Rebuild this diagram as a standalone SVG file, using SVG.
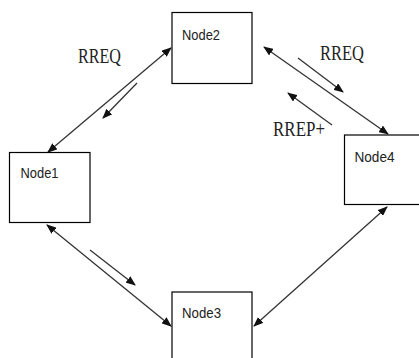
<svg xmlns="http://www.w3.org/2000/svg" width="419" height="358" viewBox="0 0 419 358">
<style>
.box{fill:#fff;stroke:#000;stroke-width:1.2}
.nt{font-family:"Liberation Sans",Arial,sans-serif;font-size:15px;fill:#222}
.lb{font-family:"Liberation Serif","Times New Roman",serif;font-size:21px;fill:#222}
.ln{stroke:#333;stroke-width:1.3;fill:none}
</style>
<defs>
<marker id="ah" markerUnits="userSpaceOnUse" markerWidth="10" markerHeight="8" refX="9" refY="4" orient="auto-start-reverse" viewBox="0 0 10 8">
<path d="M0,0 L10,4 L0,8 Z" fill="#111"/>
</marker>
</defs>
<rect width="419" height="358" fill="#fff"/>
<g id="connectors">
<line class="ln" x1="48" y1="152" x2="171" y2="48" marker-start="url(#ah)" marker-end="url(#ah)"/>
<line class="ln" x1="264" y1="47" x2="388" y2="134" marker-start="url(#ah)" marker-end="url(#ah)"/>
<line class="ln" x1="47" y1="225" x2="171" y2="326" marker-start="url(#ah)" marker-end="url(#ah)"/>
<line class="ln" x1="387" y1="207" x2="254" y2="326" marker-start="url(#ah)" marker-end="url(#ah)"/>
<line class="ln" x1="137" y1="83" x2="103" y2="118" marker-end="url(#ah)"/>
<line class="ln" x1="298" y1="58" x2="343" y2="92" marker-end="url(#ah)"/>
<line class="ln" x1="332" y1="125" x2="288" y2="93" marker-end="url(#ah)"/>
<line class="ln" x1="90" y1="250" x2="135" y2="285" marker-end="url(#ah)"/>
<text class="lb" x="78" y="63" textLength="43" lengthAdjust="spacingAndGlyphs">RREQ</text>
<text class="lb" x="320" y="60" textLength="44" lengthAdjust="spacingAndGlyphs">RREQ</text>
<text class="lb" x="273" y="136" textLength="52" lengthAdjust="spacingAndGlyphs">RREP+</text>
</g>
<g id="node2">
<rect class="box" x="172" y="12.5" width="80" height="71"/>
<text class="nt" x="182" y="40" textLength="38" lengthAdjust="spacingAndGlyphs">Node2</text>
</g>
<g id="node1">
<rect class="box" x="9.5" y="152.5" width="80.5" height="70"/>
<text class="nt" x="20.5" y="178" textLength="38" lengthAdjust="spacingAndGlyphs">Node1</text>
</g>
<g id="node4">
<rect class="box" x="344.5" y="135" width="80" height="69.5"/>
<text class="nt" x="354.5" y="162" textLength="40" lengthAdjust="spacingAndGlyphs">Node4</text>
</g>
<g id="node3">
<rect class="box" x="172" y="292" width="80" height="75"/>
<text class="nt" x="182" y="318" textLength="39" lengthAdjust="spacingAndGlyphs">Node3</text>
</g>
</svg>
